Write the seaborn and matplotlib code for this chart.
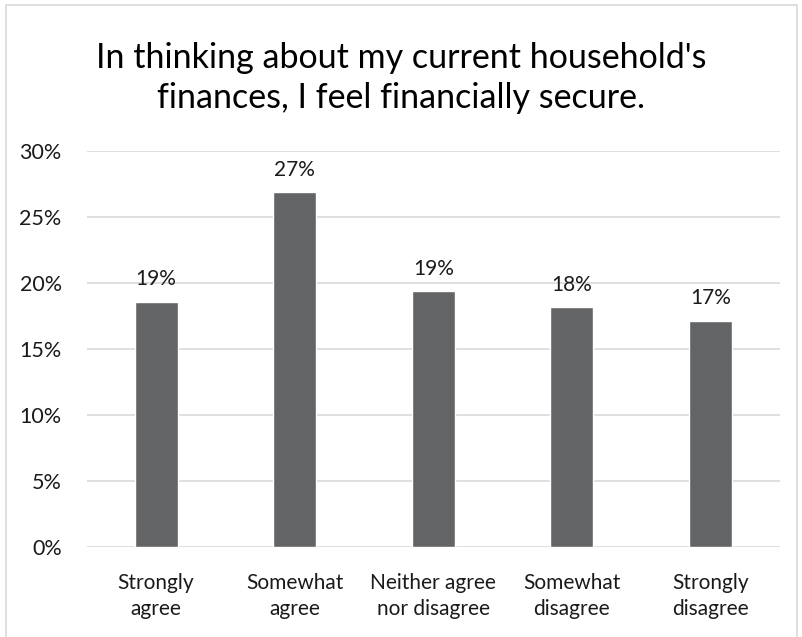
import matplotlib
matplotlib.use("Agg")
import matplotlib.pyplot as plt
import seaborn as sns
import pandas as pd
from matplotlib.patches import Rectangle
from matplotlib.ticker import FuncFormatter

categories = ["Strongly\nagree", "Somewhat\nagree", "Neither agree\nnor disagree", "Somewhat\ndisagree", "Strongly\ndisagree"]
values = [18.56, 26.87, 19.35, 18.14, 17.12]
yticks = [0, 5, 10, 15, 20, 25, 30]
title = "In thinking about my current household's\nfinances, I feel financially secure."

sns.set_theme(style="white")
plt.rcParams['font.family'] = ['Lato', 'DejaVu Sans']

df = pd.DataFrame({"cat": categories, "val": values})

fig = plt.figure(figsize=(8.03, 6.37), dpi=100)
ax = fig.add_axes([0.108, 0.1418, 0.863, 0.6216])
sns.barplot(data=df, x="cat", y="val", color="#636466", width=0.31, saturation=1, ax=ax, order=categories)

ax.set_ylim(0, 30)
ax.set_xlim(-0.5, 4.5)
ax.set_yticks(yticks)
ax.yaxis.set_major_formatter(FuncFormatter(lambda v, p: f"{int(v)}%"))
ax.grid(axis="y", color="#D9D9D9", linewidth=1.2)
ax.set_axisbelow(True)
for s in ax.spines.values():
    s.set_visible(False)
ax.set_xlabel("")
ax.set_ylabel("")
ax.tick_params(axis="y", length=0, pad=18, labelsize=15.5, labelcolor="#1a1a1a")
ax.tick_params(axis="x", length=0, pad=19, labelsize=15, labelcolor="#1a1a1a")
for lab in ax.get_xticklabels():
    lab.set_linespacing(1.35)

for c in ax.containers:
    ax.bar_label(c, labels=[f"{round(v):.0f}%" for v in values], padding=9, fontsize=15, color="#1a1a1a")

fig.text(0.5, 0.877, title, ha="center", va="center", fontsize=24.5, color="#000000", linespacing=1.3)

fig.patches.append(Rectangle((6/803, -0.02), (797-6)/803, 1.02 - 5/637, transform=fig.transFigure,
                             fill=False, edgecolor="#D9D9D9", linewidth=1.2))

fig.savefig("out.png", dpi=100)
